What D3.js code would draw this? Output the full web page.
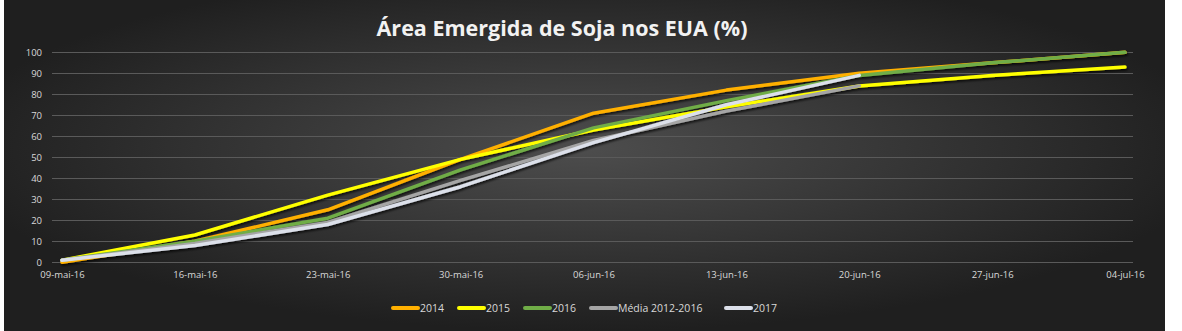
<!DOCTYPE html>
<html>
<head>
<meta charset="utf-8">
<script src="https://cdn.jsdelivr.net/npm/d3@7"></script>
<style>
  body { margin: 0; background: #fff; }
  svg { display: block; }
</style>
</head>
<body>
<svg id="chart" width="1182" height="331"></svg>
<script>
// datas semanais (eixo x)
const datas = ['2016-05-09', '2016-05-16', '2016-05-23', '2016-05-30', '2016-06-06',
               '2016-06-13', '2016-06-20', '2016-06-27', '2016-07-04'];
const meses = ['jan', 'fev', 'mar', 'abr', 'mai', 'jun', 'jul', 'ago', 'set', 'out', 'nov', 'dez'];

// valores de cada série (% emergida)
const s2014 = [0, 10, 25, 49, 71, 82, 90, 95, 100];
const s2015 = [1, 13, 32, 49, 63, 74, 84, 89, 93];
const s2016 = [1, 10, 21, 44, 64, 77, 89, 95, 100];
const sMedia = [1, 9, 19, 39, 58, 72, 84];
const s2017 = [1, 8, 18, 36, 57, 75, 89];

const nomes = ['2014', '2015', '2016', 'Média 2012-2016', '2017'];
const cores = ['#FFB000', '#FFFF00', '#70AD47', '#A5A5A5', '#DCE0EA'];
const yTicks = [0, 10, 20, 30, 40, 50, 60, 70, 80, 90, 100];

const parse = d3.timeParse('%Y-%m-%d');
const dias = datas.map(parse);
const series = [s2014, s2015, s2016, sMedia, s2017].map(function(vals, i) {
  return { nome: nomes[i], cor: cores[i], pontos: vals.map(function(v, j) { return { d: dias[j], v: v }; }) };
});

const svg = d3.select('#chart');
const defs = svg.append('defs');

// fundo com gradiente radial (estilo Excel)
const grad = defs.append('radialGradient').attr('id', 'fundo')
  .attr('cx', '50%').attr('cy', '45%').attr('r', '55%');
grad.append('stop').attr('offset', '0%').attr('stop-color', '#4d4d4d');
grad.append('stop').attr('offset', '100%').attr('stop-color', '#1f1f1f');

const sombra = defs.append('filter').attr('id', 'sombra')
  .attr('x', '-5%').attr('y', '-20%').attr('width', '110%').attr('height', '140%');
sombra.append('feDropShadow').attr('dx', 1).attr('dy', 2).attr('stdDeviation', 1.2)
  .attr('flood-color', '#000').attr('flood-opacity', 0.7);

svg.append('rect').attr('x', 4).attr('y', 0).attr('width', 1161).attr('height', 331)
  .attr('fill', 'url(#fundo)');

const x = d3.scaleTime().domain([dias[0], dias[dias.length - 1]]).range([62, 1125]);
const y = d3.scaleLinear().domain([0, 100]).range([262.3, 52.3]);

// linhas de grade
svg.append('g').selectAll('line')
  .data(yTicks)
  .enter().append('line')
  .attr('x1', 52).attr('x2', 1133)
  .attr('y1', function(d) { return Math.round(y(d)) + 0.5; })
  .attr('y2', function(d) { return Math.round(y(d)) + 0.5; })
  .attr('stroke', '#5a5a5a').attr('stroke-width', 1);

// eixo y
const eixoY = svg.append('g').attr('transform', 'translate(44,0)')
  .call(d3.axisLeft(y).tickValues(yTicks).tickSize(0).tickPadding(2));
eixoY.select('.domain').remove();
eixoY.selectAll('text').attr('fill', '#d9d9d9')
  .style('font-family', 'Open Sans').style('font-size', '9.5px');

// eixo x
const fmt = function(d) {
  return d3.timeFormat('%d')(d) + '-' + meses[d.getMonth()] + '-' + d3.timeFormat('%y')(d);
};
const eixoX = svg.append('g').attr('transform', 'translate(0,268)')
  .call(d3.axisBottom(x).tickValues(dias).tickFormat(fmt).tickSize(0).tickPadding(3));
eixoX.select('.domain').remove();
eixoX.selectAll('text').attr('fill', '#d9d9d9')
  .style('font-family', 'Open Sans').style('font-size', '9.5px');

// linhas das séries
const linha = d3.line()
  .x(function(d) { return x(d.d); })
  .y(function(d) { return y(d.v); });

svg.append('g').attr('filter', 'url(#sombra)').selectAll('path')
  .data(series)
  .enter().append('path')
  .attr('d', function(d) { return linha(d.pontos); })
  .attr('fill', 'none')
  .attr('stroke', function(d) { return d.cor; })
  .attr('stroke-width', 3.5)
  .attr('stroke-linejoin', 'round')
  .attr('stroke-linecap', 'round');

// título
svg.append('text')
  .attr('x', 562).attr('y', 36)
  .attr('text-anchor', 'middle')
  .attr('fill', '#f2f2f2')
  .style('font-family', 'Open Sans').style('font-weight', 'bold').style('font-size', '21.5px')
  .text('Área Emergida de Soja nos EUA (%)');

// legenda
const legX = [393, 459, 525, 591, 726];
const leg = svg.append('g').selectAll('g')
  .data(series)
  .enter().append('g')
  .attr('transform', function(d, i) { return 'translate(' + legX[i] + ',308)'; });
leg.append('line')
  .attr('x1', 0).attr('x2', 25).attr('y1', 0).attr('y2', 0)
  .attr('stroke', function(d) { return d.cor; })
  .attr('stroke-width', 4).attr('stroke-linecap', 'round');
leg.append('text')
  .attr('x', 27).attr('y', 4)
  .attr('fill', '#d9d9d9')
  .style('font-family', 'Open Sans').style('font-size', '10.5px')
  .text(function(d) { return d.nome; });
</script>
</body>
</html>
